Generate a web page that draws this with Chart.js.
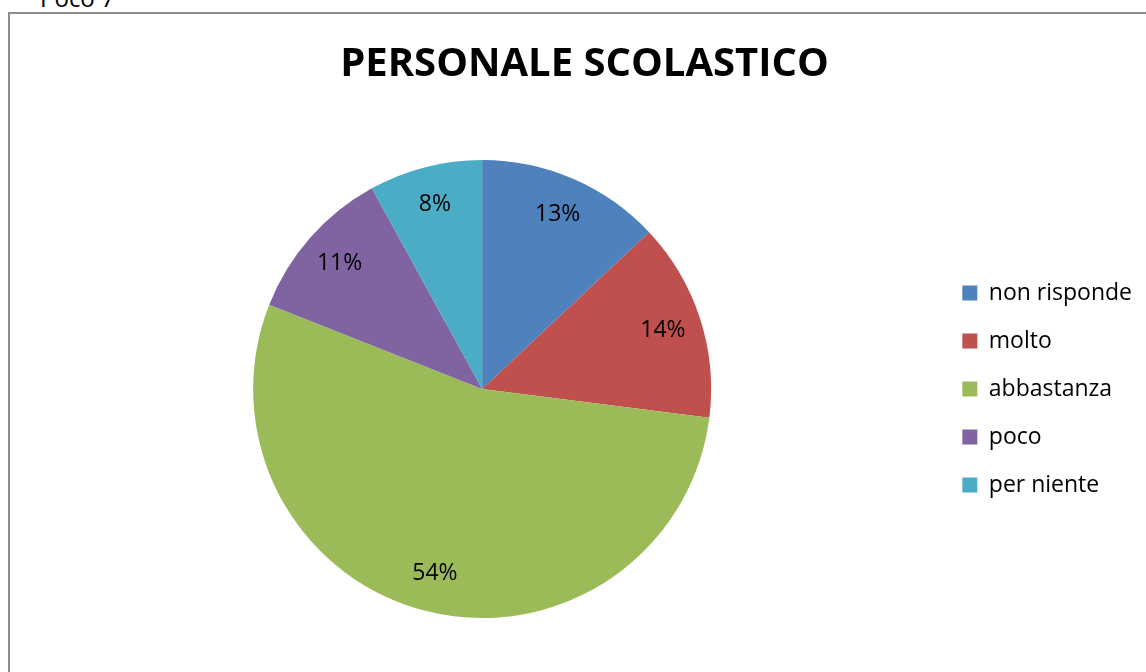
<!DOCTYPE html>
<html>
<head>
<meta charset="utf-8">
<script src="https://cdn.jsdelivr.net/npm/chart.js@4.4.0/dist/chart.umd.min.js"></script>
<style>
    html, body { margin: 0; padding: 0; background: #fff; overflow: hidden; }
    #wrap { position: relative; width: 1146px; height: 672px; }
    #frame { position: absolute; left: 8px; top: 12px; width: 1160px; height: 700px; border-left: 2px solid #8c8c8c; border-top: 2px solid #8c8c8c; box-sizing: border-box; }
    #cut { position: absolute; left: 40px; top: -19px; font: 24px 'Open Sans', sans-serif; color: #000; }
    canvas { position: absolute; left: 0; top: 0; }
</style>
</head>
<body>
<div id="wrap">
    <div id="cut">Poco 7</div>
    <div id="frame"></div>
    <canvas id="chart-pie" width="1146" height="672"></canvas>
</div>
<script>
const categories = ['non risponde', 'molto', 'abbastanza', 'poco', 'per niente'];
const percentages = [13, 14, 54, 11, 8];
const sliceColors = ['#4F81BD', '#C0504D', '#9BBB59', '#8064A2', '#4BACC6'];

// percentage labels drawn inside each slice
const sliceLabels = {
    id: 'sliceLabels',
    afterDatasetsDraw(chart) {
        const ctx = chart.ctx;
        const meta = chart.getDatasetMeta(0);
        ctx.save();
        ctx.font = "23px 'Open Sans', sans-serif";
        ctx.fillStyle = '#000';
        ctx.textAlign = 'center';
        ctx.textBaseline = 'middle';
        meta.data.forEach((arc, i) => {
            const mid = (arc.startAngle + arc.endAngle) / 2;
            const r = arc.outerRadius * 0.83;
            ctx.fillText(percentages[i] + '%', arc.x + Math.cos(mid) * r, arc.y + Math.sin(mid) * r);
        });
        ctx.restore();
    }
};

new Chart(document.getElementById('chart-pie'), {
    type: 'pie',
    data: {
        labels: categories,
        datasets: [{
            data: percentages,
            backgroundColor: sliceColors,
            borderColor: '#fff',
            borderWidth: 0
        }]
    },
    options: {
        responsive: false,
        animation: false,
        layout: { padding: { left: 27, right: 4, top: 41, bottom: 54 } },
        plugins: {
            title: {
                display: true,
                text: 'PERSONALE SCOLASTICO',
                color: '#000',
                font: { family: "'Open Sans', sans-serif", size: 40, weight: 'bold', lineHeight: 1.2 },
                padding: { top: 0, bottom: 71 }
            },
            legend: {
                position: 'right',
                fullSize: false,
                labels: {
                    color: '#000',
                    font: { family: "'Open Sans', sans-serif", size: 23 },
                    boxWidth: 15,
                    boxHeight: 15,
                    padding: 25
                }
            },
            tooltip: { enabled: false }
        }
    },
    plugins: [sliceLabels]
});
</script>
</body>
</html>
